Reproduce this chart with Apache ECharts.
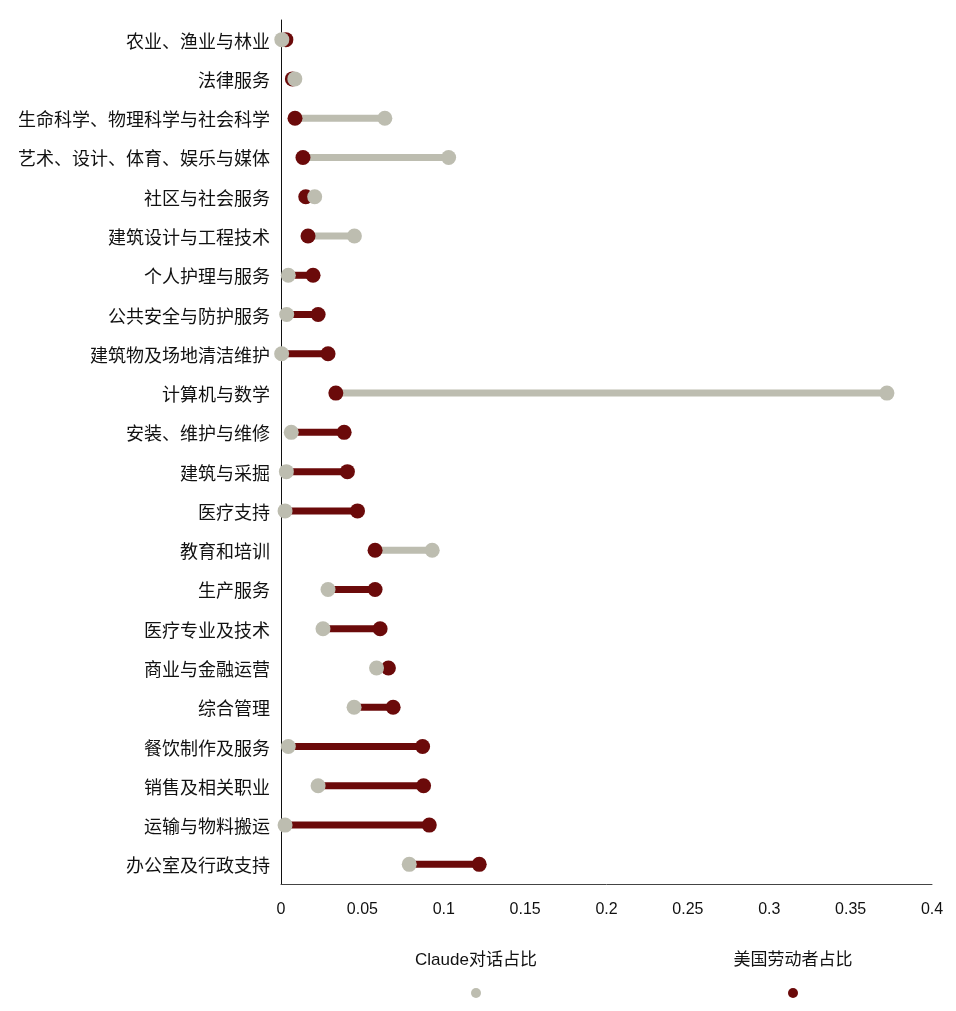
<!DOCTYPE html>
<html>
<head>
<meta charset="utf-8">
<script src="https://cdn.jsdelivr.net/npm/echarts@6/dist/echarts.min.js"></script>
<style>html,body{margin:0;padding:0;background:#fff}#c{width:956px;height:1011px}</style>
</head>
<body>
<div id="c"></div>
<script>
const categories = ['农业、渔业与林业','法律服务','生命科学、物理科学与社会科学','艺术、设计、体育、娱乐与媒体','社区与社会服务','建筑设计与工程技术','个人护理与服务','公共安全与防护服务','建筑物及场地清洁维护','计算机与数学','安装、维护与维修','建筑与采掘','医疗支持','教育和培训','生产服务','医疗专业及技术','商业与金融运营','综合管理','餐饮制作及服务','销售及相关职业','运输与物料搬运','办公室及行政支持'];
const claudeShare = [0.0005,0.0085,0.0638,0.103,0.0207,0.0451,0.0045,0.0035,0.0004,0.3723,0.0063,0.0033,0.0025,0.0929,0.0289,0.0258,0.0587,0.0449,0.0045,0.0228,0.0025,0.0788];
const workerShare = [0.003,0.007,0.0086,0.0135,0.0152,0.0166,0.0197,0.0228,0.0289,0.0337,0.0388,0.0408,0.047,0.0578,0.0578,0.0609,0.066,0.0689,0.087,0.0876,0.0911,0.1218];
const xTicks = [0,0.05,0.1,0.15,0.2,0.25,0.3,0.35,0.4];

const GRAY = '#bdbdb0';
const RED = '#6b0a0a';
const chart = echarts.init(document.getElementById('c'));
const lineData = categories.map((c,i)=>[i, claudeShare[i], workerShare[i]]);
const FONT = '"Liberation Sans","Noto Sans CJK SC",sans-serif';

chart.setOption({
  animation:false,
  grid:{left:281,right:24,top:20,bottom:127},
  xAxis:{type:'value',min:0,max:0.4,interval:0.05,
    axisLine:{show:true,lineStyle:{color:'#444',width:1}},
    axisTick:{show:false},splitLine:{show:false},
    axisLabel:{color:'#111',fontSize:16,fontFamily:FONT,margin:18,
      formatter:v=>{const t=xTicks.find(x=>Math.abs(x-v)<1e-9);return t===undefined?'':String(t);}}},
  yAxis:{type:'category',data:categories,inverse:true,
    axisLine:{show:true,lineStyle:{color:'#111',width:1}},
    axisTick:{show:false},
    axisLabel:{color:'#111',fontSize:18,fontFamily:FONT,margin:11,
      formatter:v=>'{a|'+v+'}',
      rich:{a:{fontSize:18,fontFamily:FONT,color:'#111',padding:[6,0,0,0]}}}},
  legend:[
    {data:['Claude对话占比'],left:471,top:988,icon:'circle',itemWidth:10,itemHeight:10,padding:0,formatter:()=>''},
    {data:['美国劳动者占比'],left:788,top:988,icon:'circle',itemWidth:10,itemHeight:10,padding:0,formatter:()=>''}
  ],
  graphic:[
    {type:'text',style:{text:'Claude对话占比',x:476,y:960,textAlign:'center',textVerticalAlign:'middle',fontSize:17,fontFamily:FONT,fill:'#111'}},
    {type:'text',style:{text:'美国劳动者占比',x:793,y:960,textAlign:'center',textVerticalAlign:'middle',fontSize:17,fontFamily:FONT,fill:'#111'}}
  ],
  series:[
    {type:'custom',name:'connector',data:lineData,encode:{x:[1,2],y:0},z:1,silent:true,
      renderItem:(params,api)=>{
        const y=api.value(0),g=api.value(1),r=api.value(2);
        const p1=api.coord([g,y]),p2=api.coord([r,y]);
        return {type:'line',shape:{x1:p1[0],y1:p1[1],x2:p2[0],y2:p2[1]},
          style:{stroke:g>r?GRAY:RED,lineWidth:7}};
      }},
    {type:'scatter',name:'美国劳动者占比',data:workerShare.map((v,i)=>[v,i]),symbolSize:15,z:2,itemStyle:{color:RED,opacity:1}},
    {type:'scatter',name:'Claude对话占比',data:claudeShare.map((v,i)=>[v,i]),symbolSize:15,z:3,itemStyle:{color:GRAY,opacity:1}}
  ]
});
</script>
</body>
</html>
